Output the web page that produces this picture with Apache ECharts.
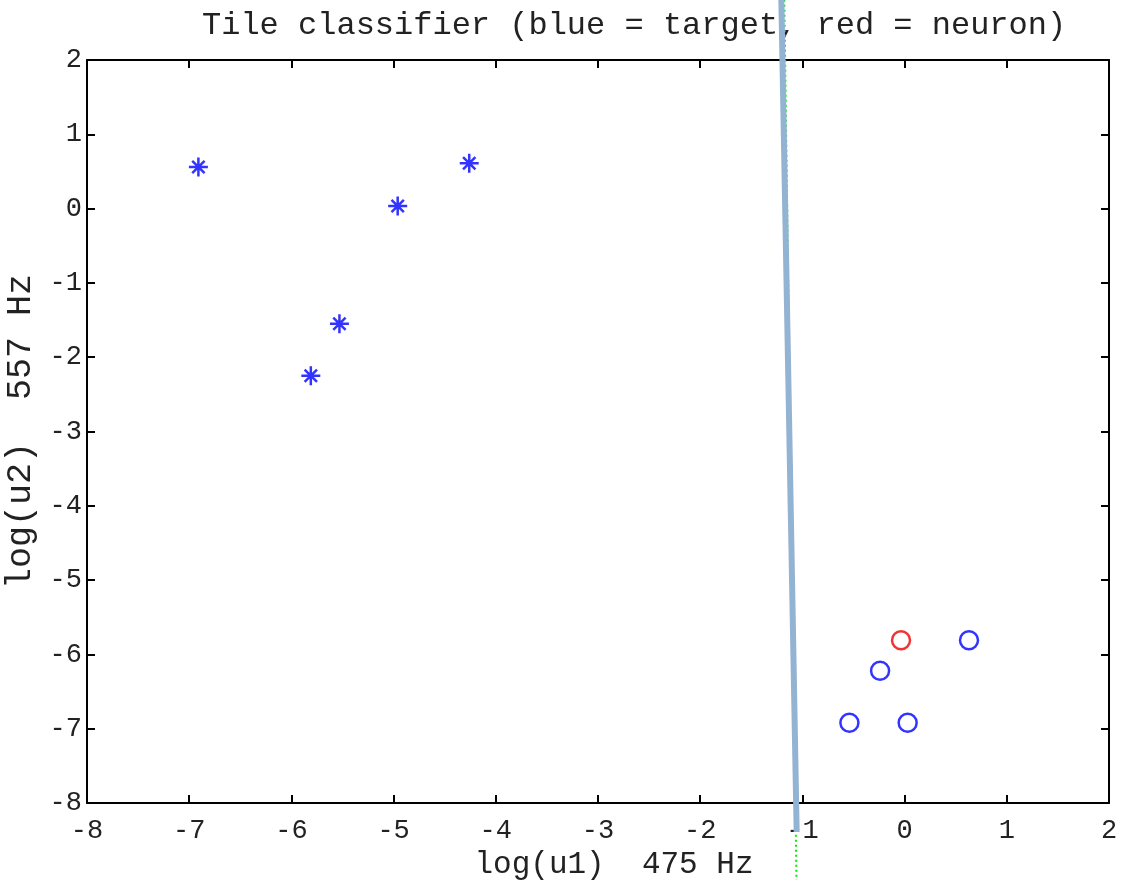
<!DOCTYPE html>
<html>
<head>
<meta charset="utf-8">
<script src="https://cdn.jsdelivr.net/npm/echarts@6/dist/echarts.min.js"></script>
<style>html,body{margin:0;padding:0;background:#fff}#c{width:1128px;height:880px}</style>
</head>
<body>
<div id="c"></div>
<script>
// ---- data ----
const titleText = 'Tile classifier (blue = target, red = neuron)';
const xName = 'log(u1)  475 Hz';
const yName = 'log(u2)  557 Hz';
const xTicks = [-8, -7, -6, -5, -4, -3, -2, -1, 0, 1, 2];
const yTicks = [-8, -7, -6, -5, -4, -3, -2, -1, 0, 1, 2];
const targetStarsX = [-6.91, -4.26, -4.96, -5.53, -5.81];
const targetStarsY = [0.56, 0.61, 0.035, -1.55, -2.25];
const targetCirclesX = [0.63, -0.24, -0.54, 0.03];
const targetCirclesY = [-5.81, -6.22, -6.92, -6.92];
const neuronX = [-0.035];
const neuronY = [-5.81];
const boundaryX = [-1.206, -1.056];
const boundaryY = [2.81, -8.39];
const guideX = [-1.177, -1.058];
const guideY = [2.81, -9.04];

const zip = (a, b) => a.map((v, i) => [v, b[i]]);
const FONT = '"Liberation Mono", "DejaVu Sans Mono", monospace';
const chart = echarts.init(document.getElementById('c'), null, {renderer: 'canvas'});

const axisCommon = {
  min: xTicks[0], max: xTicks[xTicks.length - 1], interval: 1,
  axisLine: {show: true, onZero: false, lineStyle: {color: '#000', width: 2}},
  axisTick: {show: true, inside: true, length: 8, lineStyle: {color: '#000', width: 2}},
  splitLine: {show: false}
};

chart.setOption({
  backgroundColor: '#fff',
  animation: false,
  title: {
    text: titleText, left: 197, top: 5,
    textStyle: {fontFamily: FONT, fontSize: 32, fontWeight: 'normal', color: '#222'}
  },
  grid: {left: 87, right: 19, top: 60, bottom: 77, containLabel: false, outerBoundsMode: 'none'},
  xAxis: [
    Object.assign({}, axisCommon, {
      type: 'value', position: 'bottom',
      name: xName, nameLocation: 'middle', nameGap: 46,
      nameTextStyle: {fontFamily: FONT, fontSize: 31, color: '#222', padding: [0, 0, 0, 32]},
      axisLabel: {show: true, fontFamily: FONT, fontSize: 27, color: '#222', margin: 14,
        formatter: v => xTicks.includes(v) ? String(v) : ''}
    }),
    Object.assign({}, axisCommon, {
      type: 'value', position: 'top', axisLabel: {show: false}
    })
  ],
  yAxis: [
    Object.assign({}, axisCommon, {
      min: yTicks[0], max: yTicks[yTicks.length - 1],
      type: 'value', position: 'left',
      name: yName, nameLocation: 'middle', nameGap: 42,
      nameTextStyle: {fontFamily: FONT, fontSize: 35, color: '#222'},
      axisLabel: {show: true, fontFamily: FONT, fontSize: 27, color: '#222', margin: 5,
        formatter: v => yTicks.includes(v) ? String(v) : ''}
    }),
    Object.assign({}, axisCommon, {
      min: yTicks[0], max: yTicks[yTicks.length - 1],
      type: 'value', position: 'right', axisLabel: {show: false}
    })
  ],
  series: [
    {
      type: 'scatter', name: 'target (stars)', data: zip(targetStarsX, targetStarsY),
      symbol: 'path://M0,-10L0,10M-10,0L10,0M-6.5,-6.5L6.5,6.5M-6.5,6.5L6.5,-6.5',
      symbolSize: 19,
      itemStyle: {color: 'rgba(0,0,0,0)', borderColor: '#0000ff', borderWidth: 2.5}
    },
    {
      type: 'scatter', name: 'target (circles)', data: zip(targetCirclesX, targetCirclesY),
      symbol: 'circle', symbolSize: 18,
      itemStyle: {color: 'rgba(0,0,0,0)', borderColor: '#0000ff', borderWidth: 2.5}
    },
    {
      type: 'scatter', name: 'neuron', data: zip(neuronX, neuronY),
      symbol: 'circle', symbolSize: 18,
      itemStyle: {color: 'rgba(0,0,0,0)', borderColor: '#ee0000', borderWidth: 2.5}
    },
    {
      type: 'line', name: 'guide', data: zip(guideX, guideY), clip: false, z: 9,
      symbol: 'none', lineStyle: {color: '#00ee00', width: 2, type: [2, 3]}
    },
    {
      type: 'line', name: 'boundary', data: zip(boundaryX, boundaryY), clip: false, z: 10,
      symbol: 'none', lineStyle: {color: '#93b3d3', width: 6}
    }
  ]
});
</script>
</body>
</html>
